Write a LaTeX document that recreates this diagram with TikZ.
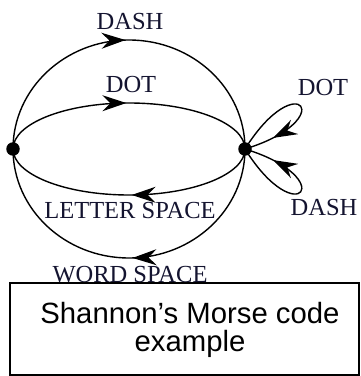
\documentclass[tikz,border=0pt]{standalone}
\usepackage{fontspec}
\setmainfont{Liberation Serif}
\newfontfamily\captionfont{Liberation Sans}
\usetikzlibrary{arrows.meta,decorations.markings}

\definecolor{labelink}{RGB}{20,20,48}

\tikzset{
  statedot/.style={circle,fill=black,inner sep=0pt,minimum size=13.5pt},
  edge/.style={line width=1.4pt},
  midtip/.style={postaction={decorate},decoration={markings,
    mark=at position #1 with {\arrow{Stealth[length=24pt,width=16pt,inset=8pt]}}}},
  lbl/.style={text=labelink,inner sep=0pt,font=\fontsize{24.5}{26}\selectfont},
  capbox/.style={draw,line width=1.4pt,minimum width=349pt,minimum height=92pt,inner sep=0pt},
  captext/.style={inner sep=0pt,align=center,font=\captionfont\fontsize{29.3}{28.5}\selectfont}
}

\begin{document}
\begin{tikzpicture}[x=1pt,y=1pt]
  \useasboundingbox (0,0) rectangle (360,376);

  % the two states
  \node[statedot] (L) at (13,227) {};
  \node[statedot] (R) at (245,227) {};

  % outer paths: dash (top) and word space (bottom)
  \draw[edge,midtip=0.49] (L.center) arc[start angle=180,end angle=0,x radius=116,y radius=109];
  \draw[edge,midtip=0.49] (R.center) arc[start angle=0,end angle=-180,x radius=116,y radius=109];

  % inner paths: dot (top) and letter space (bottom)
  \draw[edge,midtip=0.49] (L.center) arc[start angle=180,end angle=0,x radius=116,y radius=46];
  \draw[edge,midtip=0.49] (R.center) arc[start angle=0,end angle=-180,x radius=116,y radius=46];

  % self loops on the right state
  \draw[edge,midtip=0.8] (R.center) to[out=58,in=17,distance=100pt] (R.center);
  \draw[edge,midtip=0.8] (R.center) to[out=-58,in=-17,distance=100pt] (R.center);

  % labels
  \node[lbl] (dashtop) at (130,354) {DASH};
  \node[lbl] (dotin) at (131,291) {DOT};
  \node[lbl] (letter) at (130,165) {LETTER SPACE};
  \node[lbl] (word) at (130,101) {WORD SPACE};
  \node[lbl] (dotloop) at (323,288) {DOT};
  \node[lbl] (dashloop) at (324,168) {DASH};

  % caption
  \node[capbox] (caption) at (184.5,47) {};
  \node[captext] (captiontext) at (190,46) {Shannon’s Morse code\\example};
\end{tikzpicture}
\end{document}
